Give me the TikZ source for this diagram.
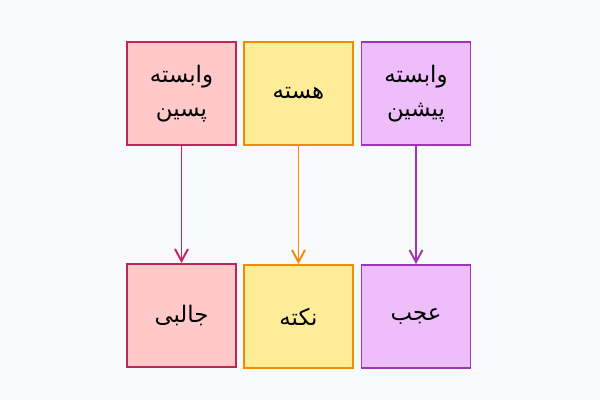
\documentclass[tikz,border=0pt]{standalone}
\usepackage{fontspec}
\usepackage{xcolor}
\usetikzlibrary{arrows.meta}
\TeXXeTstate=1
\newfontfamily\arabicfont[Script=Arabic]{DejaVu Sans}
\definecolor{pagebg}{HTML}{F8F9FA}
\definecolor{pinkbg}{HTML}{FFC9C9}
\definecolor{pinkline}{HTML}{C2255C}
\definecolor{yellowbg}{HTML}{FFEC99}
\definecolor{yellowline}{HTML}{F08C00}
\definecolor{purplebg}{HTML}{EEBEFA}
\definecolor{purpleline}{HTML}{9C36B5}

\begin{document}
\begin{tikzpicture}[
    box/.style={rectangle, draw, line width=1.1pt, minimum width=2.18cm, minimum height=2.06cm, align=center, font=\arabicfont\fontsize{13}{19}\selectfont},
    arrow/.style={-{Straight Barb[length=2.4mm, width=2.6mm]}, line width=1.1pt}
]

\fill[pagebg] (0,0) rectangle (12,8);

\node[box, fill=pinkbg, draw=pinkline] (after) at (3.63,6.13) {\beginR وابسته\endR\\\beginR پسین\endR};
\node[box, fill=yellowbg, draw=yellowline] (core) at (5.97,6.13) {\beginR هسته\endR};
\node[box, fill=purplebg, draw=purpleline] (before) at (8.32,6.13) {\beginR وابسته\endR\\\beginR پیشین\endR};

\node[box, fill=pinkbg, draw=pinkline] (jaleb) at (3.63,1.69) {\beginR جالبی\endR};
\node[box, fill=yellowbg, draw=yellowline] (nokte) at (5.97,1.67) {\beginR نکته\endR};
\node[box, fill=purplebg, draw=purpleline] (ajab) at (8.32,1.67) {\beginR عجب\endR};

\draw[arrow, pinkline] (after) -- (jaleb);
\draw[arrow, yellowline] (core) -- (nokte);
\draw[arrow, purpleline] (before) -- (ajab);

\end{tikzpicture}
\end{document}
